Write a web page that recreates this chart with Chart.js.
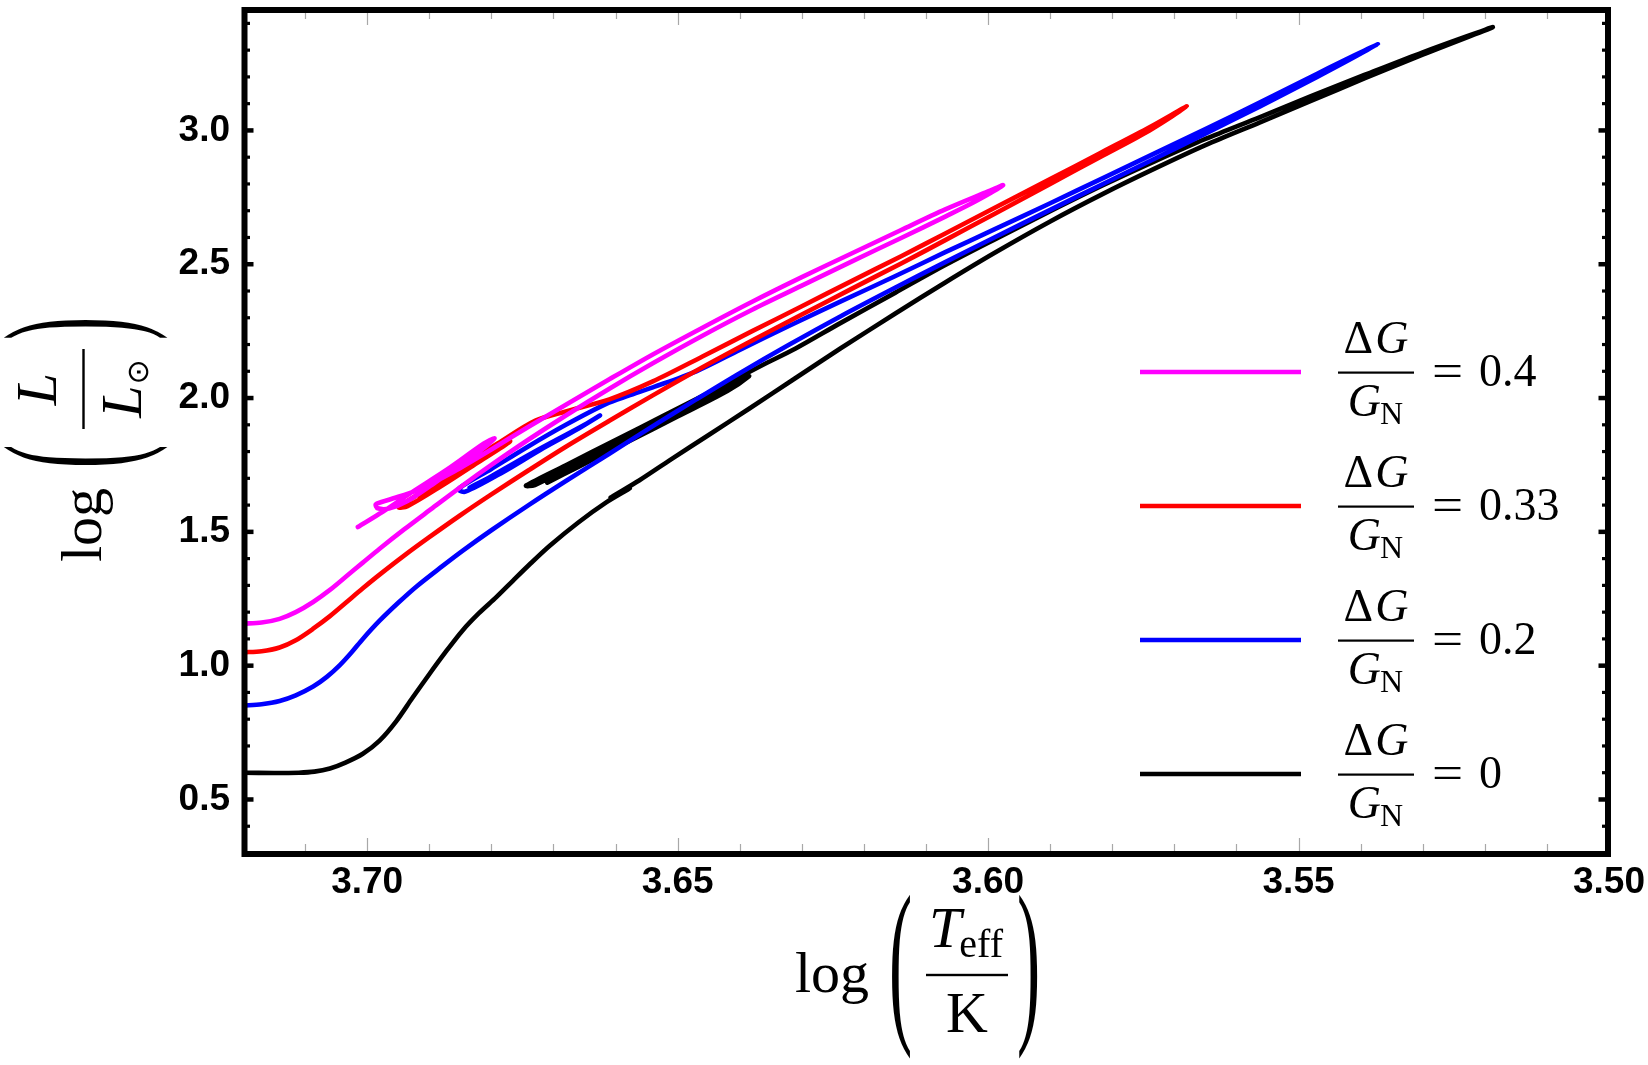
<!DOCTYPE html>
<html>
<head>
<meta charset="utf-8">
<script src="https://cdn.jsdelivr.net/npm/chart.js@4.4.1/dist/chart.umd.min.js"></script>
<style>
html,body{margin:0;padding:0;background:#ffffff;}
#wrap{width:1648px;height:1065px;position:relative;}
</style>
</head>
<body>
<div id="wrap"><canvas id="c" width="1648" height="1065"></canvas></div>
<script>
// ---------- data ----------
const seriesLabels = ['0.4', '0.33', '0.2', '0'];
const seriesColors = ['#ff00ff', '#ff0000', '#0000ff', '#000000'];
const xTickValues = [3.70, 3.65, 3.60, 3.55, 3.50];
const yTickValues = [0.5, 1.0, 1.5, 2.0, 2.5, 3.0];

// ΔG/G_N = 0.4  (giant branch up to tip, then descent, clump hook)
const magentaX = [3.7200,3.7170,3.7141,3.7115,3.7087,3.7060,3.7034,3.7007,3.6980,3.6940,3.6900,3.6847,3.6800,3.6740,3.6680,3.6610,3.6540,3.6460,3.6380,3.6300,3.6220,3.6140,3.6069,3.6020,3.5976,
  3.6000,3.6069,3.6140,3.6220,3.6300,3.6380,3.6460,3.6540,3.6610,3.6680,3.6740,3.6800,3.6860,3.6920,3.6965,3.6986,3.6983,3.6965,3.6935,3.6890,3.6845,3.6805,3.6795,3.6812,3.6870,3.6930,3.6975,3.7015];
const magentaY = [1.157,1.161,1.175,1.200,1.238,1.283,1.333,1.385,1.437,1.510,1.580,1.672,1.750,1.845,1.935,2.035,2.130,2.233,2.330,2.420,2.510,2.598,2.678,2.735,2.795,
  2.772,2.705,2.628,2.540,2.452,2.360,2.263,2.163,2.070,1.975,1.893,1.808,1.726,1.655,1.620,1.603,1.588,1.587,1.615,1.685,1.757,1.827,1.850,1.830,1.735,1.645,1.575,1.518];

// ΔG/G_N = 0.33
const redX = [3.7200,3.7170,3.7141,3.7115,3.7087,3.7060,3.7034,3.7007,3.6980,3.6940,3.6900,3.6850,3.6800,3.6740,3.6680,3.6610,3.6540,3.6460,3.6380,3.6300,3.6220,3.6140,3.6069,3.5990,3.5900,3.5820,3.5740,3.5680,
  3.5740,3.5820,3.5900,3.5990,3.6069,3.6140,3.6220,3.6300,3.6380,3.6460,3.6540,3.6610,3.6680,3.6729,3.6790,3.6850,3.6910,3.6949,3.6935,3.6880,3.6820,3.6770,3.6785,3.6850,3.6915];
const redY = [1.050,1.054,1.068,1.095,1.138,1.185,1.236,1.289,1.340,1.412,1.480,1.562,1.640,1.730,1.818,1.915,2.010,2.115,2.215,2.312,2.408,2.503,2.590,2.688,2.800,2.900,3.000,3.090,
  3.012,2.915,2.818,2.710,2.615,2.530,2.437,2.343,2.250,2.155,2.062,1.995,1.950,1.916,1.830,1.742,1.652,1.592,1.596,1.672,1.762,1.838,1.830,1.730,1.632];

// ΔG/G_N = 0.2
const blueX = [3.7200,3.7170,3.7141,3.7115,3.7087,3.7065,3.7044,3.7025,3.7007,3.6980,3.6950,3.6920,3.6880,3.6846,3.6800,3.6740,3.6680,3.6610,3.6540,3.6470,3.6400,3.6320,3.6238,3.6150,3.6069,3.5990,3.5900,3.5815,3.5731,3.5650,3.5562,3.5470,3.5372,
  3.5470,3.5562,3.5650,3.5731,3.5815,3.5900,3.5990,3.6069,3.6150,3.6238,3.6320,3.6400,3.6470,3.6540,3.6580,3.6615,3.6680,3.6740,3.6800,3.6853,3.6842,3.6780,3.6720,3.6660,3.6625,3.6650,3.6730,3.6800,3.6835];
const blueY = [0.851,0.856,0.868,0.889,0.922,0.958,1.002,1.050,1.100,1.168,1.235,1.297,1.370,1.430,1.506,1.600,1.690,1.792,1.895,1.995,2.093,2.200,2.305,2.412,2.508,2.600,2.703,2.800,2.895,2.988,3.090,3.200,3.322,
  3.212,3.105,3.005,2.915,2.822,2.728,2.630,2.545,2.455,2.360,2.270,2.180,2.100,2.040,2.008,1.978,1.900,1.820,1.735,1.660,1.650,1.725,1.808,1.885,1.935,1.900,1.800,1.708,1.665];

// ΔG/G_N = 0
const blackX = [3.7200,3.7150,3.7110,3.7085,3.7060,3.7035,3.7007,3.6980,3.6953,3.6927,3.6900,3.6873,3.6847,3.6820,3.6792,3.6765,3.6739,3.6706,3.6660,3.6615,3.6577,3.6608,3.6562,3.6510,3.6450,3.6385,3.6310,3.6238,3.6150,3.6069,3.5990,3.5900,3.5815,3.5731,3.5650,3.5562,3.5480,3.5393,3.5300,3.5187,
  3.5300,3.5393,3.5480,3.5562,3.5650,3.5731,3.5815,3.5900,3.5990,3.6069,3.6150,3.6238,3.6310,3.6360,3.6391,3.6450,3.6520,3.6600,3.6680,3.6744,
  3.6730,3.6680,3.6610,3.6540,3.6470,3.6400,3.6385,
  3.6420,3.6500,3.6580,3.6660,3.6710];
const blackY = [0.600,0.599,0.600,0.604,0.616,0.638,0.671,0.720,0.793,0.880,0.968,1.053,1.130,1.196,1.256,1.318,1.377,1.448,1.535,1.610,1.663,1.628,1.692,1.772,1.862,1.960,2.075,2.185,2.315,2.432,2.542,2.660,2.763,2.858,2.945,3.030,3.110,3.195,3.283,3.386,
  3.292,3.208,3.128,3.050,2.968,2.885,2.795,2.698,2.592,2.497,2.393,2.280,2.185,2.127,2.090,2.020,1.937,1.843,1.749,1.673,
  1.675,1.734,1.817,1.899,1.982,2.064,2.082,
  2.026,1.931,1.837,1.743,1.684];

const trackXs = [magentaX, redX, blueX, blackX];
const trackYs = [magentaY, redY, blueY, blackY];

// ---------- helpers ----------
const SERIF = "'Liberation Serif', 'Times New Roman', serif";
function put(ctx, s, x, y, font, align) {
  ctx.font = font; ctx.textAlign = align || 'left'; ctx.textBaseline = 'alphabetic';
  ctx.fillText(s, x, y);
  return ctx.measureText(s).width;
}
function wid(ctx, s, font) { ctx.font = font; return ctx.measureText(s).width; }
function paren(ctx, ch, u, v0) {
  const size = 120, sx = 0.58, sy = 1.5;
  ctx.save();
  ctx.translate(u, v0 + 0.25 * size * sy);
  ctx.scale(sx, sy);
  ctx.font = size + 'px ' + SERIF;
  ctx.textAlign = 'left'; ctx.textBaseline = 'alphabetic';
  ctx.fillText(ch, 0, 0);
  ctx.restore();
}
function putScaled(ctx, s, x, y, font, sx) {
  ctx.save(); ctx.translate(x, y); ctx.scale(sx, 1);
  ctx.font = font; ctx.textAlign = 'left'; ctx.textBaseline = 'alphabetic';
  ctx.fillText(s, 0, 0); ctx.restore();
}

// ---------- plugin: frame, ticks, titles, legend ----------
const decor = {
  id: 'decor',
  afterDatasetsDraw(chart) {
    const ctx = chart.ctx, a = chart.chartArea, xs = chart.scales.x, ys = chart.scales.y;
    ctx.save();
    // x ticks (thin gray, inward, bottom and top)
    ctx.strokeStyle = '#a8a8a8'; ctx.lineWidth = 1.2;
    for (let k = 0; k <= 22; k++) {
      const v = 3.50 + k * 0.01;
      const px = Math.round(xs.getPixelForValue(v)) + 0.5;
      const major = xTickValues.some(t => Math.abs(t - v) < 1e-6);
      const len = major ? 13 : 7;
      ctx.beginPath();
      ctx.moveTo(px, a.bottom - 2); ctx.lineTo(px, a.bottom - 2 - len);
      ctx.moveTo(px, a.top + 2); ctx.lineTo(px, a.top + 2 + len);
      ctx.stroke();
    }
    // y ticks (black, inward, left and right)
    ctx.fillStyle = '#000';
    for (let k = 0; k <= 31; k++) {
      const v = 0.3 + k * 0.1;
      const py = ys.getPixelForValue(v);
      const major = yTickValues.some(t => Math.abs(t - v) < 1e-6);
      const len = major ? 9 : 5.5, th = major ? 4.5 : 3.2;
      ctx.fillRect(a.left, py - th / 2, len + 1.5, th);
      ctx.fillRect(a.right - len - 1.5, py - th / 2, len + 1.5, th);
    }
    // frame
    ctx.strokeStyle = '#000'; ctx.lineWidth = 6;
    ctx.strokeRect(a.left + 1.5, a.top, a.right - a.left - 2.5, a.bottom - a.top + 1);

    ctx.fillStyle = '#000';
    drawXTitle(ctx, 795, 975);
    ctx.save();
    ctx.translate(83.5, 562);
    ctx.rotate(-Math.PI / 2);
    drawYTitle(ctx);
    ctx.restore();

    // legend
    const ds = chart.data.datasets;
    for (let i = 0; i < ds.length; i++) {
      const Ly = 372 + i * 134;
      ctx.strokeStyle = ds[i].borderColor; ctx.lineWidth = 4.5; ctx.lineCap = 'butt';
      ctx.beginPath(); ctx.moveTo(1140, Ly); ctx.lineTo(1301, Ly); ctx.stroke();
      drawLegendLabel(ctx, ds[i].label, Ly);
    }
    ctx.restore();
  }
};

function drawLegendLabel(ctx, value, Ly) {
  const fs = 46;
  const fR = fs + 'px ' + SERIF, fI = 'italic ' + fs + 'px ' + SERIF, fSub = '32px ' + SERIF;
  const cx = 1376;
  ctx.fillStyle = '#000';
  const wD = wid(ctx, 'Δ', fR), wG = wid(ctx, 'G', fI);
  let u = cx - (wD + wG + 2) / 2;
  put(ctx, 'Δ', u, Ly - 19, fR); put(ctx, 'G', u + wD + 2, Ly - 19, fI);
  ctx.fillRect(1338, Ly - 0.5, 76, 2.2);
  const wG2 = wid(ctx, 'G', fI), wN = wid(ctx, 'N', fSub);
  u = cx - (wG2 + wN) / 2;
  put(ctx, 'G', u, Ly + 44, fI); put(ctx, 'N', u + wG2 - 1, Ly + 52, fSub);
  putScaled(ctx, '=', 1432, Ly + 14, fR, 1.2);
  put(ctx, value, 1479, Ly + 14, fR);
}

function drawXTitle(ctx, u0, v0) {
  const fR = '58px ' + SERIF, fI = 'italic 58px ' + SERIF, fS = '40px ' + SERIF;
  put(ctx, 'log', u0, v0 + 17, fR);
  paren(ctx, '(', u0 + 94, v0);
  ctx.fillRect(u0 + 131, v0 - 1.2, 82, 2.4);
  const cx = u0 + 172;
  const wT = wid(ctx, 'T', fI), wE = wid(ctx, 'eff', fS);
  const u = cx - (wT + wE) / 2;
  put(ctx, 'T', u, v0 - 28, fI);
  put(ctx, 'eff', u + wT - 2, v0 - 18, fS);
  put(ctx, 'K', cx, v0 + 57, fR, 'center');
  paren(ctx, ')', u0 + 222, v0);
}

function drawYTitle(ctx) {
  const fR = '58px ' + SERIF, fI = 'italic 58px ' + SERIF, fO = "30px 'DejaVu Sans'";
  put(ctx, 'log', 0, 17, fR);
  paren(ctx, '(', 94, 0);
  ctx.fillRect(133, -1.2, 80, 2.4);
  const cx = 173;
  put(ctx, 'L', cx, -28, fI, 'center');
  const wL = wid(ctx, 'L', fI), wS = wid(ctx, '\u2299', fO);
  const u = cx - (wL + wS) / 2;
  put(ctx, 'L', u, 57, fI);
  put(ctx, '\u2299', u + wL + 1, 64, fO);
  paren(ctx, ')', 222, 0);
}

// ---------- chart ----------
const datasets = seriesLabels.map((lab, i) => ({
  label: lab,
  data: trackXs[i].map((x, j) => ({ x: x, y: trackYs[i][j] })),
  showLine: true,
  borderColor: seriesColors[i],
  backgroundColor: seriesColors[i],
  borderWidth: 4.6,
  pointRadius: 0,
  pointHoverRadius: 0,
  tension: 0.3,
  fill: false,
  borderJoinStyle: 'round',
  borderCapStyle: 'round'
}));

new Chart(document.getElementById('c'), {
  type: 'scatter',
  data: { datasets: datasets },
  options: {
    responsive: false,
    animation: false,
    devicePixelRatio: 1,
    layout: { padding: { left: 0, right: 39, top: 10, bottom: 0 } },
    plugins: { legend: { display: false }, tooltip: { enabled: false } },
    events: [],
    scales: {
      x: {
        type: 'linear', position: 'bottom', reverse: true,
        min: 3.50, max: 3.72,
        afterBuildTicks: s => { s.ticks = xTickValues.map(v => ({ value: v })); },
        afterFit: s => { s.height = 212; s.paddingLeft = 0; s.paddingRight = 0; },
        grid: { display: false, drawTicks: false },
        border: { display: false },
        ticks: {
          color: '#000', padding: 8, maxRotation: 0, autoSkip: false,
          font: { family: "'Liberation Sans', Arial, sans-serif", size: 37, weight: 'bold' },
          callback: v => Number(v).toFixed(2)
        }
      },
      y: {
        type: 'linear', position: 'left',
        min: 0.3, max: 3.45,
        afterBuildTicks: s => { s.ticks = yTickValues.map(v => ({ value: v })); },
        afterFit: s => { s.width = 243; s.paddingTop = 0; s.paddingBottom = 0; },
        grid: { display: false, drawTicks: false },
        border: { display: false },
        ticks: {
          color: '#000', padding: 13, autoSkip: false,
          font: { family: "'Liberation Sans', Arial, sans-serif", size: 37, weight: 'bold' },
          callback: v => Number(v).toFixed(1)
        }
      }
    }
  },
  plugins: [decor]
});
</script>
</body>
</html>
